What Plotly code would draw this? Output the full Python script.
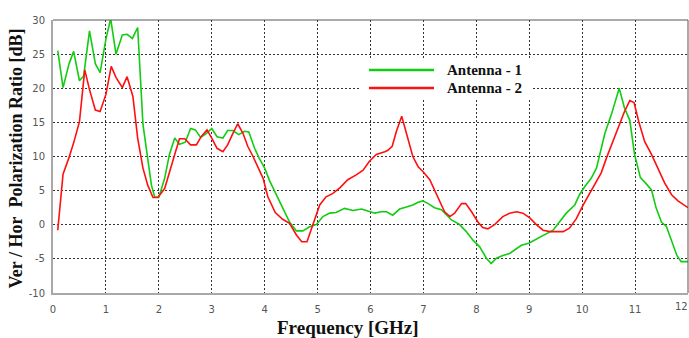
import plotly.graph_objects as go

# Antenna - 1 (green)
freq_a1 = [0.09, 0.19, 0.30, 0.39, 0.50, 0.58, 0.69, 0.80, 0.89, 1.00, 1.09, 1.19, 1.31, 1.40, 1.50,
           1.60, 1.70, 1.79, 1.86, 1.92, 2.00, 2.11, 2.20, 2.30, 2.39, 2.50, 2.60, 2.69, 2.79, 2.90,
           3.00, 3.10, 3.21, 3.30, 3.40, 3.51, 3.62, 3.70, 3.81, 3.90, 4.00, 4.09, 4.22, 4.34, 4.47,
           4.60, 4.72, 4.85, 4.98, 5.10, 5.23, 5.35, 5.51, 5.67, 5.83, 5.95, 6.08, 6.20, 6.30, 6.42,
           6.55, 6.68, 6.80, 6.90, 6.99, 7.09, 7.21, 7.34, 7.43, 7.53, 7.68, 7.81, 7.94, 8.06, 8.19,
           8.28, 8.38, 8.50, 8.63, 8.72, 8.85, 8.99, 9.13, 9.29, 9.45, 9.57, 9.70, 9.86, 9.95, 10.05,
           10.17, 10.27, 10.33, 10.43, 10.55, 10.70, 10.80, 10.90, 10.99, 11.10, 11.20, 11.31, 11.40,
           11.50, 11.59, 11.69, 11.79, 11.87, 12.00]
ratio_a1 = [25.5, 20.1, 23.5, 25.4, 21.1, 21.8, 28.4, 23.6, 22.3, 27.2, 30.2, 25.0, 27.8, 27.9, 27.3,
            28.9, 14.7, 9.3, 5.8, 4.1, 4.0, 6.8, 10.3, 12.7, 11.8, 12.1, 14.1, 13.9, 12.8, 13.4,
            14.1, 12.9, 12.7, 13.8, 13.8, 13.2, 13.7, 13.6, 11.2, 9.7, 8.3, 6.5, 4.4, 2.4, 0.4,
            -0.9, -0.9, -0.3, 0.05, 1.2, 1.7, 1.8, 2.4, 2.1, 2.3, 2.0, 1.7, 1.9, 1.9, 1.4,
            2.3, 2.6, 2.9, 3.3, 3.5, 3.1, 2.5, 2.2, 1.5, 0.7, 0.05, -1.0, -2.3, -3.2, -4.9,
            -5.7, -4.9, -4.5, -4.2, -3.7, -3.0, -2.7, -2.1, -1.5, -0.8, 0.4, 1.7, 2.9, 4.4, 5.6,
            6.8, 8.3, 10.3, 13.4, 16.1, 20.0, 17.1, 15.3, 10.3, 6.9, 6.1, 5.1, 2.4,
            0.35, -0.2, -2.3, -4.5, -5.4, -5.4]

# Antenna - 2 (red)
freq_a2 = [0.09, 0.19, 0.30, 0.39, 0.50, 0.60, 0.69, 0.80, 0.89, 1.00, 1.10, 1.19, 1.31, 1.40, 1.51,
           1.60, 1.70, 1.79, 1.89, 1.98, 2.11, 2.20, 2.30, 2.39, 2.49, 2.60, 2.71, 2.80, 2.91, 3.00,
           3.10, 3.21, 3.30, 3.40, 3.49, 3.59, 3.68, 3.78, 3.87, 3.97, 4.06, 4.20, 4.34, 4.47, 4.60,
           4.70, 4.80, 4.91, 5.04, 5.16, 5.29, 5.42, 5.57, 5.73, 5.86, 5.98, 6.11, 6.27, 6.33, 6.41,
           6.49, 6.59, 6.68, 6.80, 6.90, 6.99, 7.12, 7.21, 7.31, 7.40, 7.50, 7.59, 7.72, 7.80, 7.91,
           8.03, 8.12, 8.22, 8.35, 8.50, 8.63, 8.76, 8.88, 9.01, 9.13, 9.26, 9.39, 9.51, 9.64, 9.76,
           9.89, 10.02, 10.14, 10.27, 10.36, 10.46, 10.58, 10.70, 10.80, 10.90, 10.98, 11.07, 11.18,
           11.31, 11.43, 11.56, 11.69, 11.81, 12.00]
ratio_a2 = [-0.8, 7.4, 9.8, 12.0, 15.1, 22.7, 19.8, 16.8, 16.6, 19.1, 23.2, 21.6, 20.1, 21.7, 18.8,
            12.7, 8.3, 5.8, 4.0, 4.0, 5.3, 7.8, 10.3, 12.6, 12.6, 11.7, 11.7, 12.9, 13.9, 12.7,
            11.2, 10.7, 11.7, 13.4, 14.8, 13.4, 11.5, 10.0, 8.5, 6.8, 4.1, 1.8, 0.8, 0.2, -1.5,
            -2.5, -2.5, 0.0, 2.9, 4.1, 4.6, 5.4, 6.6, 7.3, 8.0, 9.3, 10.3, 10.7, 10.9, 11.5,
            13.7, 15.9, 13.4, 10.0, 8.5, 7.8, 6.6, 5.1, 3.4, 1.9, 1.2, 1.7, 3.1, 3.1, 1.9,
            0.4, -0.4, -0.6, 0.05, 1.2, 1.7, 1.9, 1.7, 1.0, 0.05, -0.8, -1.0, -1.0, -1.0, -0.5,
            0.9, 2.9, 4.6, 6.3, 7.6, 9.8, 12.2, 14.9, 16.6, 18.2, 17.9, 15.1, 12.2,
            10.3, 8.3, 6.1, 4.4, 3.5, 2.5]

x_ticks = [0, 1, 2, 3, 4, 5, 6, 7, 8, 9, 10, 11, 12]
y_ticks = [-10, -5, 0, 5, 10, 15, 20, 25, 30]
series_names = ["Antenna - 1", "Antenna - 2"]
GREEN = "#12cc12"
RED = "#ff1010"

fig = go.Figure()
fig.add_trace(go.Scatter(x=freq_a1, y=ratio_a1, mode="lines", name=series_names[0],
                         line=dict(color=GREEN, width=1.6), showlegend=False))
fig.add_trace(go.Scatter(x=freq_a2, y=ratio_a2, mode="lines", name=series_names[1],
                         line=dict(color=RED, width=1.6), showlegend=False))

tick_font = dict(family="DejaVu Sans", size=10, color="#555555")
grid = dict(showgrid=True, gridcolor="#333333", gridwidth=1, griddash="2px,2px",
            zeroline=False, showline=True, linecolor="#a8a8a8", linewidth=2,
            ticks="outside", tickcolor="rgba(0,0,0,0)", tickfont=tick_font)

# all x tick labels except the last are drawn by the axis; the last one sits on the page edge
fig.update_xaxes(range=[0, 12], tickvals=x_ticks[:-1], ticktext=[str(v) for v in x_ticks[:-1]],
                 ticklen=6, **grid)
fig.update_yaxes(range=[-10, 30], tickvals=y_ticks, ticktext=[str(v) for v in y_ticks], ticklen=4, **grid)

shapes = [
    # legend box (covers the grid)
    dict(type="rect", xref="paper", yref="paper", x0=0.4835, x1=0.7543, y0=0.707, y1=0.861,
         fillcolor="white", line=dict(width=0), layer="above"),
    dict(type="line", xref="paper", yref="paper", x0=0.4976, x1=0.600, y0=0.8168, y1=0.8168,
         line=dict(color=GREEN, width=2.5), layer="above"),
    dict(type="line", xref="paper", yref="paper", x0=0.4976, x1=0.600, y0=0.7509, y1=0.7509,
         line=dict(color=RED, width=2.5), layer="above"),
    dict(type="line", xref="paper", yref="paper", x0=0, x1=1, y0=1, y1=1,
         line=dict(color="#555555", width=1), layer="above"),
    dict(type="line", xref="paper", yref="paper", x0=1, x1=1, y0=0, y1=1,
         line=dict(color="#555555", width=1), layer="above"),
]

serif_bold = dict(family="Liberation Serif", size=15, color="#111111", weight="bold")
annotations = [
    dict(text=series_names[0], xref="paper", yref="paper", x=0.6173, y=0.8168,
         xanchor="left", yanchor="middle", showarrow=False, font=serif_bold),
    dict(text=series_names[1], xref="paper", yref="paper", x=0.6173, y=0.7509,
         xanchor="left", yanchor="middle", showarrow=False, font=serif_bold),
    dict(text=str(x_ticks[-1]), xref="x", yref="paper", x=x_ticks[-1], y=-0.051,
         xanchor="right", yanchor="middle", showarrow=False, font=tick_font,
         borderpad=0, xshift=1),
    dict(text="Frequency [GHz]", xref="paper", yref="paper", x=0.465, y=-0.128,
         xanchor="center", yanchor="middle", showarrow=False,
         font=dict(family="Liberation Serif", size=19, color="#111111", weight="bold")),
    dict(text="Ver / Hor\u00a0 Polarization Ratio [dB]", xref="paper", yref="paper",
         x=-0.059, y=0.491, xanchor="center", yanchor="middle", textangle=-90, showarrow=False,
         font=dict(family="Liberation Serif", size=18, color="#111111", weight="bold")),
]

fig.update_layout(
    width=689, height=338,
    margin=dict(l=53, r=1, t=20, b=45),
    paper_bgcolor="white", plot_bgcolor="white",
    shapes=shapes, annotations=annotations,
)

fig.write_html("out.html")
